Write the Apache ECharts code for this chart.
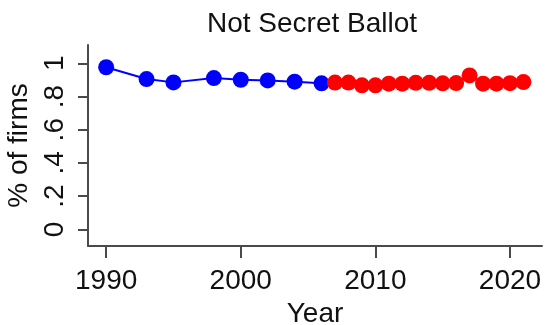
<!DOCTYPE html>
<html>
<head>
<meta charset="utf-8">
<script src="https://cdn.jsdelivr.net/npm/echarts@6/dist/echarts.min.js"></script>
<style>
  html, body { margin: 0; padding: 0; background: #fff; }
  #chart { width: 548px; height: 325px; }
</style>
</head>
<body>
<div id="chart"></div>
<script>
// Share of firms without a secret ballot, by year
const earlyYears = [1990, 1993, 1995, 1998, 2000, 2002, 2004, 2006];
const earlyValues = [0.976, 0.905, 0.885, 0.911, 0.901, 0.897, 0.889, 0.879];

const lateYears = [2007, 2008, 2009, 2010, 2011, 2012, 2013, 2014, 2015, 2016, 2017, 2018, 2019, 2020, 2021];
const lateValues = [0.884, 0.884, 0.867, 0.867, 0.877, 0.877, 0.882, 0.882, 0.879, 0.881, 0.927, 0.877, 0.877, 0.880, 0.887];

const xTicks = [1990, 2000, 2010, 2020];
const yTicks = [0, 0.2, 0.4, 0.6, 0.8, 1];
const yTickLabels = ['0', '.2', '.4', '.6', '.8', '1'];

const FONT = '"Liberation Sans", Arial, sans-serif';
const FONT_SIZE = 28;
const AXIS_COLOR = '#4a4a4a';
const TEXT_COLOR = '#111';

const pairs = (xs, ys) => xs.map((x, i) => [x, ys[i]]);

const chart = echarts.init(document.getElementById('chart'), null, { renderer: 'canvas' });

chart.setOption({
  animation: false,
  backgroundColor: '#fff',
  title: {
    text: 'Not Secret Ballot',
    left: 207,
    top: 10,
    padding: 0,
    textStyle: { fontFamily: FONT, fontSize: FONT_SIZE, fontWeight: 'normal', color: TEXT_COLOR }
  },
  grid: { left: 88, right: 6, top: 45, bottom: 79, containLabel: false, outerBoundsMode: 'none' },
  xAxis: {
    type: 'value',
    min: 1988.65,
    max: 2022.38,
    name: 'Year',
    nameLocation: 'middle',
    nameGap: 49,
    nameTextStyle: { fontFamily: FONT, fontSize: FONT_SIZE, color: TEXT_COLOR },
    axisLine: { show: true, onZero: false, lineStyle: { color: AXIS_COLOR, width: 2 } },
    axisTick: { show: true, length: 12, lineStyle: { color: AXIS_COLOR, width: 2 }, customValues: xTicks },
    axisLabel: {
      fontFamily: FONT, fontSize: FONT_SIZE, color: TEXT_COLOR, margin: 21,
      customValues: xTicks,
      formatter: v => String(v)
    },
    splitLine: { show: false }
  },
  yAxis: {
    type: 'value',
    min: -0.1,
    max: 1.11,
    name: '% of firms',
    nameLocation: 'middle',
    nameRotate: 90,
    nameGap: 50,
    nameTextStyle: { fontFamily: FONT, fontSize: FONT_SIZE, color: TEXT_COLOR },
    axisLine: { show: true, onZero: false, lineStyle: { color: AXIS_COLOR, width: 2 } },
    axisTick: { show: true, length: 10, lineStyle: { color: AXIS_COLOR, width: 2 }, customValues: yTicks },
    axisLabel: {
      fontFamily: FONT, fontSize: FONT_SIZE, color: TEXT_COLOR, margin: 19, rotate: 90,
      customValues: yTicks,
      formatter: v => {
        const i = yTicks.findIndex(t => Math.abs(t - v) < 1e-9);
        return i >= 0 ? yTickLabels[i] : '';
      }
    },
    splitLine: { show: false }
  },
  series: [
    {
      type: 'line',
      data: pairs(earlyYears, earlyValues),
      symbol: 'circle',
      symbolSize: 16,
      itemStyle: { color: '#0000ff' },
      lineStyle: { color: '#0000ff', width: 2 }
    },
    {
      type: 'line',
      data: pairs(lateYears, lateValues),
      symbol: 'circle',
      symbolSize: 16,
      itemStyle: { color: '#ff0000' },
      lineStyle: { color: '#ff0000', width: 2 }
    }
  ]
});
</script>
</body>
</html>
